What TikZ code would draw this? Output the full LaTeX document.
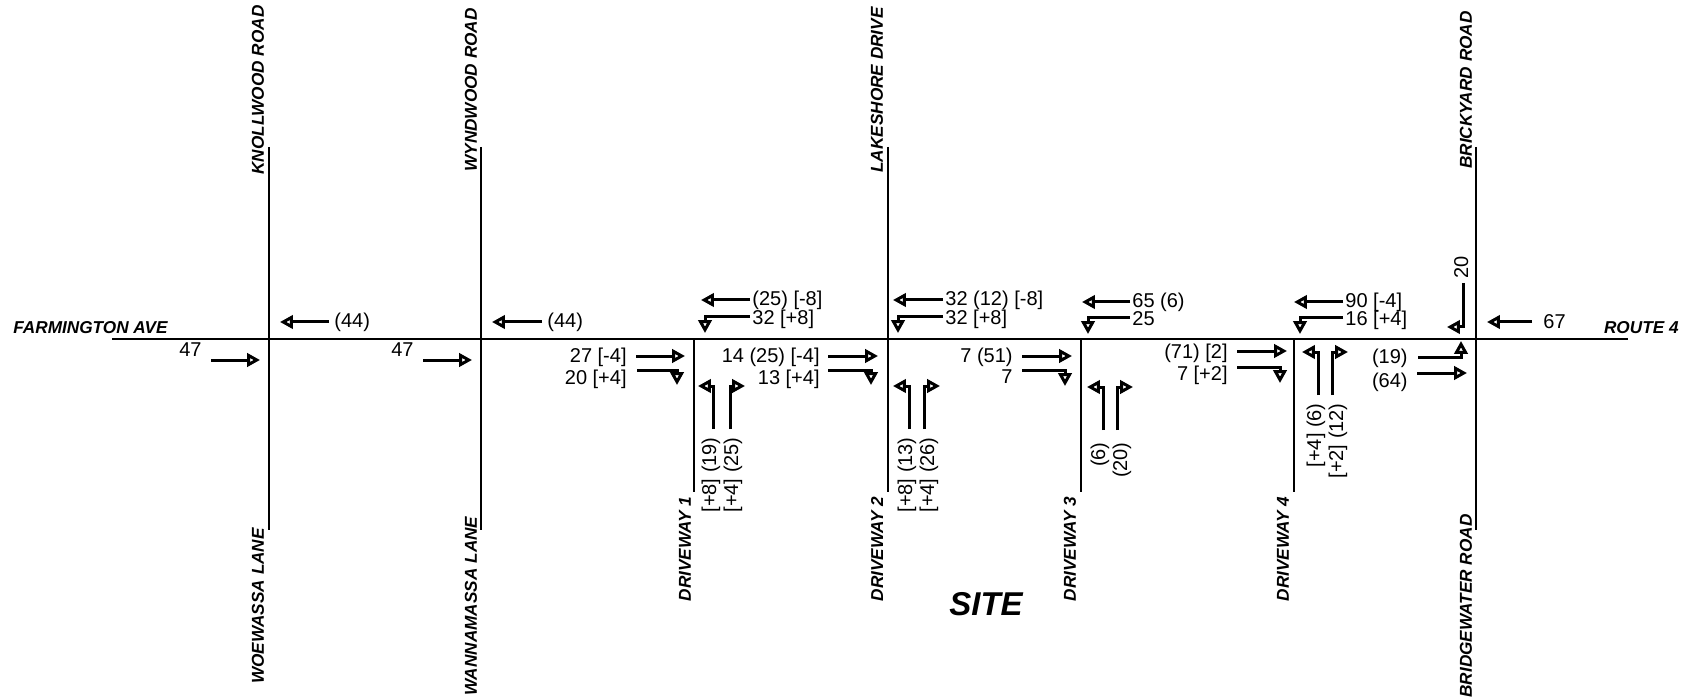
\documentclass[tikz,border=0pt]{standalone}
\usepackage{fontspec}
\setmainfont{Liberation Sans}
\usepackage{tikz}
\usetikzlibrary{arrows.meta}

\begin{document}
\begin{tikzpicture}[
    x=0.5pt, y=-0.5pt,
    road/.style={line width=1.4pt},
    mv/.style={line width=1.5pt, -{Triangle[open, length=6.4pt, width=6.6pt]}},
    vol/.style={font=\fontsize{10}{12}\selectfont, inner sep=0pt, text height=7.3pt, text depth=2.1pt},
    vvol/.style={vol, rotate=90},
    street/.style={font=\fontsize{8.6}{10}\selectfont\bfseries\itshape, inner sep=0pt},
    vstreet/.style={street, rotate=90}
]
\useasboundingbox (0,0) rectangle (1692,700);

% roads
\draw[road] (112,339) -- (1628,339);
\draw[road] (269,147) -- (269,530);
\draw[road] (481,147) -- (481,530);
\draw[road] (888,147) -- (888,492);
\draw[road] (694,339) -- (694,492);
\draw[road] (1081,339) -- (1081,492);
\draw[road] (1294,339) -- (1294,492);
\draw[road] (1476,147) -- (1476,530);

\node[street, anchor=west] (farm) at (13,328) {FARMINGTON AVE};
\node[street, anchor=east] (rt4) at (1679,328) {ROUTE 4};
\node[vstreet] (knoll) at (258,90) {KNOLLWOOD ROAD};
\node[vstreet] (woe) at (258,606) {WOEWASSA LANE};
\node[vstreet] (wynd) at (471,90) {WYNDWOOD ROAD};
\node[vstreet] (wanna) at (471,606) {WANNAMASSA LANE};
\node[vstreet] (lake) at (877,90) {LAKESHORE DRIVE};
\node[vstreet] (brick) at (1466,90) {BRICKYARD ROAD};
\node[vstreet] (bridge) at (1466,606) {BRIDGEWATER ROAD};
\node[vstreet] (dw1) at (685,549) {DRIVEWAY 1};
\node[vstreet] (dw2) at (877,549) {DRIVEWAY 2};
\node[vstreet] (dw3) at (1070,549) {DRIVEWAY 3};
\node[vstreet] (dw4) at (1283,549) {DRIVEWAY 4};
\node[street, font=\fontsize{16.5}{20}\selectfont\bfseries\itshape] (site) at (986,604) {SITE};

% Knollwood Road
\draw[mv] (329,322) -- (280,322);
\node[vol, anchor=west] (k-wb) at (334,322) {(44)};
\draw[mv] (211,360) -- (260,360);
\node[vol, anchor=east] (k-eb) at (202,351) {47};

% Wyndwood Road
\draw[mv] (542,322) -- (492,322);
\node[vol, anchor=west] (w-wb) at (547,322) {(44)};
\draw[mv] (423,360) -- (472,360);
\node[vol, anchor=east] (w-eb) at (414,351) {47};

% Driveway 1
\draw[mv] (750,300) -- (701,300);
\node[vol, anchor=west] (d1-wbt) at (752,300) {(25) [-8]};
\draw[mv] (750,317) -- (705,317) -- (705,333);
\node[vol, anchor=west] (d1-wbl) at (752,319) {32 [+8]};
\draw[mv] (636,356) -- (685,356);
\node[vol, anchor=east] (d1-ebt) at (627,357) {27 [-4]};
\draw[mv] (637,370) -- (677,370) -- (677,385);
\node[vol, anchor=east] (d1-ebr) at (627,379) {20 [+4]};
\draw[mv] (713,429) -- (713,386) -- (698,386);
\node[vvol, anchor=east] (d1-nbl) at (711,437) {[+8] (19)};
\draw[mv] (730,429) -- (730,386) -- (745,386);
\node[vvol, anchor=east] (d1-nbr) at (733,437) {[+4] (25)};

% Lakeshore Drive / Driveway 2
\draw[mv] (943,300) -- (893,300);
\node[vol, anchor=west] (d2-wbt) at (945,300) {32 (12) [-8]};
\draw[mv] (943,317) -- (898,317) -- (898,333);
\node[vol, anchor=west] (d2-wbl) at (945,319) {32 [+8]};
\draw[mv] (828,356) -- (878,356);
\node[vol, anchor=east] (d2-ebt) at (820,357) {14 (25) [-4]};
\draw[mv] (828,370) -- (871,370) -- (871,385);
\node[vol, anchor=east] (d2-ebr) at (820,379) {13 [+4]};
\draw[mv] (909,429) -- (909,386) -- (893,386);
\node[vvol, anchor=east] (d2-nbl) at (907,437) {[+8] (13)};
\draw[mv] (924,429) -- (924,386) -- (940,386);
\node[vvol, anchor=east] (d2-nbr) at (929,437) {[+4] (26)};

% Driveway 3
\draw[mv] (1130,302) -- (1082,302);
\node[vol, anchor=west] (d3-wbt) at (1132,302) {65 (6)};
\draw[mv] (1130,318) -- (1088,318) -- (1088,334);
\node[vol, anchor=west] (d3-wbl) at (1132,320) {25};
\draw[mv] (1022,356) -- (1072,356);
\node[vol, anchor=east] (d3-ebt) at (1013,357) {7 (51)};
\draw[mv] (1022,370) -- (1065,370) -- (1065,386);
\node[vol, anchor=east] (d3-ebr) at (1013,378) {7};
\draw[mv] (1103,430) -- (1103,387) -- (1087,387);
\node[vvol, anchor=east] (d3-nbl) at (1100,442) {(6)};
\draw[mv] (1117,430) -- (1117,387) -- (1133,387);
\node[vvol, anchor=east] (d3-nbr) at (1122,442) {(20)};

% Driveway 4
\draw[mv] (1343,302) -- (1294,302);
\node[vol, anchor=west] (d4-wbt) at (1345,302) {90 [-4]};
\draw[mv] (1343,318) -- (1300,318) -- (1300,334);
\node[vol, anchor=west] (d4-wbl) at (1345,320) {16 [+4]};
\draw[mv] (1237,351) -- (1287,351);
\node[vol, anchor=east] (d4-ebt) at (1228,353) {(71) [2]};
\draw[mv] (1237,367) -- (1280,367) -- (1280,383);
\node[vol, anchor=east] (d4-ebr) at (1228,375) {7 [+2]};
\draw[mv] (1318,395) -- (1318,352) -- (1302,352);
\node[vvol, anchor=east] (d4-nbl) at (1316,403) {[+4] (6)};
\draw[mv] (1332,395) -- (1332,352) -- (1348,352);
\node[vvol, anchor=east] (d4-nbr) at (1338,403) {[+2] (12)};

% Brickyard Road
\draw[mv] (1463,283) -- (1463,327) -- (1447,327);
\node[vvol, anchor=west] (b-sbr) at (1463,279) {20};
\draw[mv] (1532,322) -- (1487,322);
\node[vol, anchor=west] (b-wb) at (1543,323) {67};
\draw[mv] (1418,357) -- (1461,357) -- (1461,341);
\node[vol, anchor=east] (b-ebl) at (1408,358) {(19)};
\draw[mv] (1417,373) -- (1467,373);
\node[vol, anchor=east] (b-ebt) at (1408,382) {(64)};

\end{tikzpicture}
\end{document}
